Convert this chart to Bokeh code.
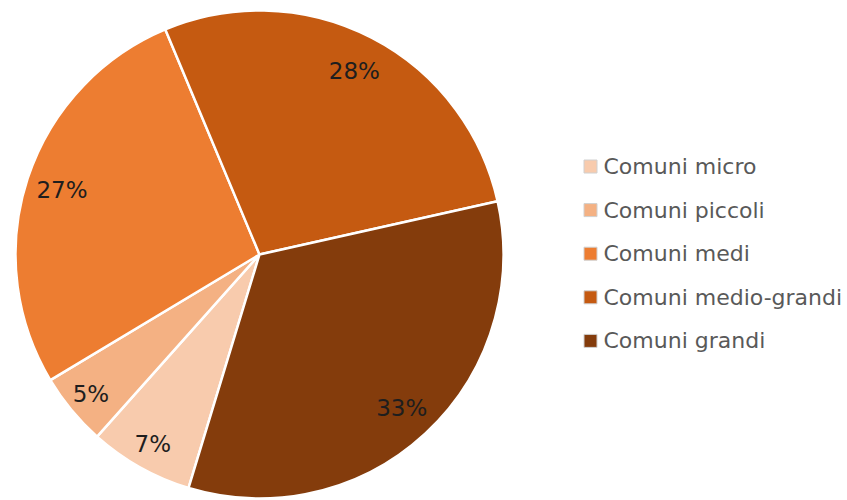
import math
from bokeh.plotting import figure
from bokeh.models import Range1d, ColumnDataSource
from bokeh.core.properties import value
from bokeh.embed import file_html
from bokeh.resources import INLINE

# ---- data ----
categories = ["Comuni micro", "Comuni piccoli", "Comuni medi", "Comuni medio-grandi", "Comuni grandi"]
shares = [6.9, 4.8, 27.3, 27.8, 33.2]
colors = ["#F8CBAD", "#F4B183", "#ED7D31", "#C55A11", "#843C0C"]
first_slice_deg = 196.9  # clockwise from 12 o'clock

# ---- layout ----
W, H = 847, 500
cx, cy = 259, H - 254
R = 244
label_r_frac = [0.893, 0.897, 0.852, 0.846, 0.857]

total = sum(shares)
starts, ends, lx, ly, labels = [], [], [], [], []
acc = first_slice_deg
for i, s in enumerate(shares):
    span = s / total * 360.0
    t1, t2 = acc, acc + span
    starts.append(math.radians(90 - t1))
    ends.append(math.radians(90 - t2))
    tm = math.radians((t1 + t2) / 2)
    r = R * label_r_frac[i]
    lx.append(cx + r * math.sin(tm))
    ly.append(cy + r * math.cos(tm))
    labels.append(f"{round(s / total * 100)}%")
    acc = t2

src = ColumnDataSource(dict(start=starts, end=ends, color=colors, cat=categories,
                            lx=lx, ly=ly, lab=labels))

p = figure(width=W, height=H, x_range=Range1d(0, W), y_range=Range1d(0, H),
           output_backend="svg", toolbar_location=None, min_border=0)
p.axis.visible = False
p.grid.visible = False
p.outline_line_color = None
p.background_fill_color = "white"

p.wedge(x=cx, y=cy, radius=R, start_angle="start", end_angle="end", direction="clock",
        fill_color="color", line_color="white", line_width=2.5, source=src)

p.text(x="lx", y="ly", text="lab", source=src, text_align="center", text_baseline="middle",
       text_font=value("DejaVu Sans"), text_font_size="23px", text_color="#1e1e1e")

# legend
row0 = H - 166
step = 43.6
leg_y = [row0 - i * step for i in range(len(categories))]
leg_src = ColumnDataSource(dict(y=leg_y, cat=categories, color=colors))
p.rect(x=590, y="y", width=13, height=13, fill_color="color", line_color="#D0D0D0",
       line_width=1, source=leg_src)
p.text(x=603, y="y", text="cat", source=leg_src, text_align="left", text_baseline="middle",
       text_font=value("DejaVu Sans"), text_font_size="22px", text_color="#595959")

open("out.html", "w").write(file_html(p, INLINE))
